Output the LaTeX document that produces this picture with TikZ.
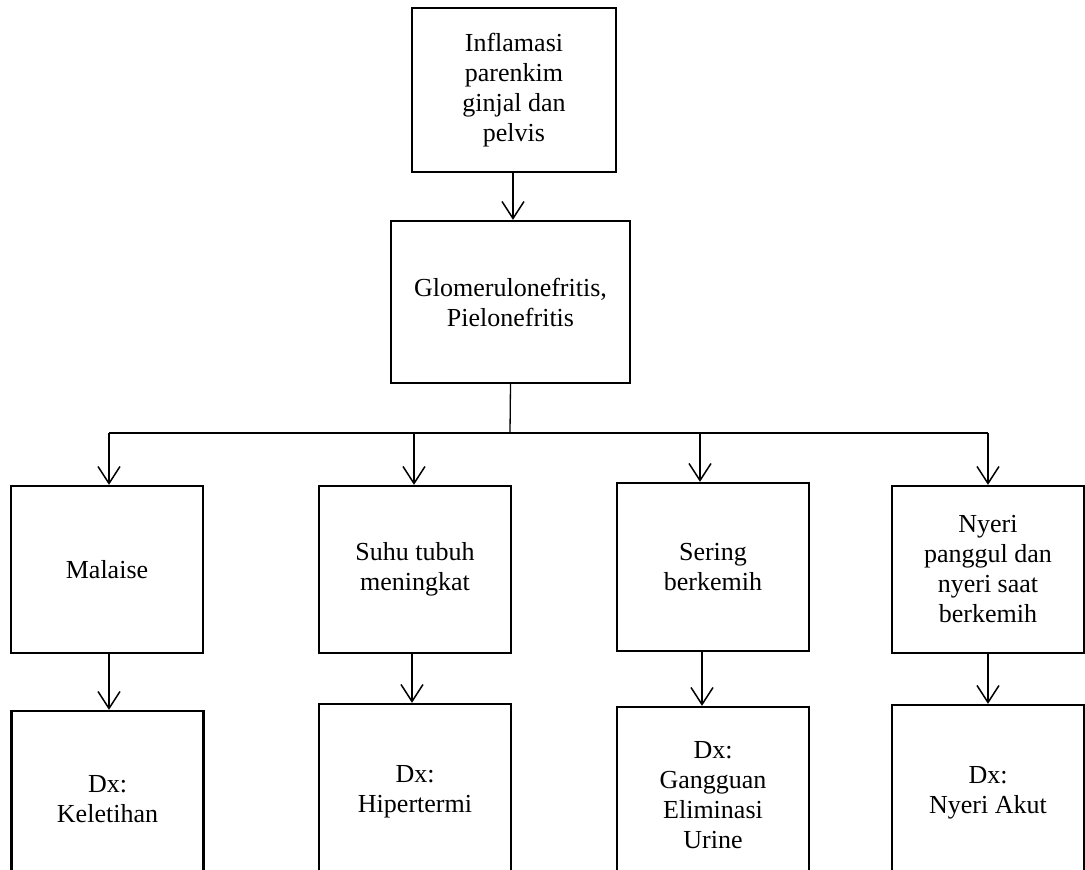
\documentclass[tikz,border=0pt]{standalone}
\usepackage{fontspec}
\setmainfont{Liberation Serif}
\usetikzlibrary{arrows.meta}
\begin{document}
\begin{tikzpicture}[x=1pt,y=-1pt,
  box/.style={draw=black, line width=2.3pt, fill=white, align=center, inner sep=4pt,
    font=\fontsize{26}{30}\selectfont, text=black},
  conn/.style={draw=black, line width=1.3pt},
  arr/.style={conn, -{Straight Barb[length=17pt,width=22pt,line width=1.5pt]}}]
\useasboundingbox (0,0) rectangle (1085,870);
\clip (0,0) rectangle (1085,870);
\fill[white] (0,0) rectangle (1085,870);

\node[box, minimum width=204pt, minimum height=164pt] (top) at (514,90)
  {Inflamasi\\parenkim\\ginjal dan\\pelvis};
\node[box, minimum width=239pt, minimum height=162pt] (glom) at (510.5,302)
  {Glomerulonefritis,\\Pielonefritis};

\node[box, minimum width=192pt, minimum height=167pt] (b1) at (107,569.5) {Malaise};
\node[box, minimum width=192pt, minimum height=167pt] (b2) at (415,569.5) {Suhu tubuh\\meningkat};
\node[box, minimum width=192pt, minimum height=168pt] (b3) at (713,567) {Sering\\berkemih};
\node[box, minimum width=192pt, minimum height=167pt] (b4) at (988,569.5) {Nyeri\\panggul dan\\nyeri saat\\berkemih};

\node[box, minimum width=192pt, minimum height=176pt] (d1) at (107.5,799) {Dx:\\Keletihan};
\node[box, minimum width=192pt, minimum height=176pt] (d2) at (415,792) {Dx:\\Hipertermi};
\node[box, minimum width=192pt, minimum height=176pt] (d3) at (713,795) {Dx:\\Gangguan\\Eliminasi\\Urine};
\node[box, minimum width=192pt, minimum height=176pt] (d4) at (988,793) {Dx:\\Nyeri Akut};

% top to second
\draw[arr] ([xshift=-1pt]top.south) -- ([xshift=-1pt]top.south |- glom.north);

% bus
\coordinate (bus) at (510,433);
\coordinate (busL) at (109,433);
\coordinate (busR) at (988,433);
\draw[conn] (glom.south) -- (bus);
\draw[conn] (busL) -- (busR);
\draw[arr] (busL) -- (busL |- b1.north);
\draw[arr] ([xshift=-1pt]b2.north |- bus) -- ([xshift=-1pt]b2.north);
\draw[arr] ([xshift=-13pt]b3.north |- bus) -- ([xshift=-13pt]b3.north);
\draw[arr] (busR) -- (busR |- b4.north);

% second row
\draw[arr] ([xshift=2pt]b1.south) -- ([xshift=2pt]b1.south |- d1.north);
\draw[arr] ([xshift=-3pt]b2.south) -- ([xshift=-3pt]b2.south |- d2.north);
\draw[arr] ([xshift=-11pt]b3.south) -- ([xshift=-11pt]b3.south |- d3.north);
\draw[arr] (b4.south) -- (b4.south |- d4.north);
\end{tikzpicture}
\end{document}
